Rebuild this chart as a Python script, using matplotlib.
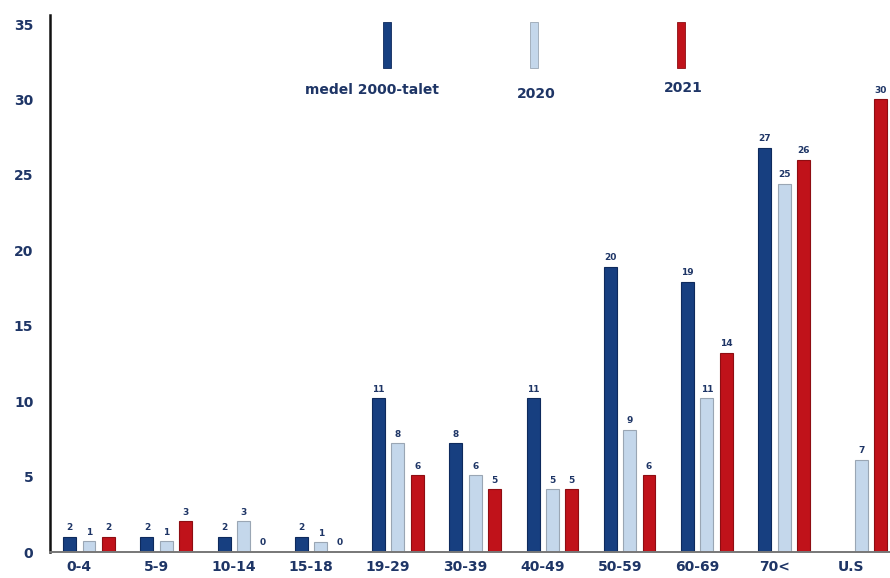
import numpy as np
import matplotlib
matplotlib.use("Agg")
import matplotlib.pyplot as plt
from matplotlib.patches import Rectangle

# age groups
groups = ["0-4", "5-9", "10-14", "15-18", "19-29", "30-39", "40-49",
          "50-59", "60-69", "70<", "U.S"]
series_names = ["medel 2000-talet", "2020", "2021"]

# bar heights as drawn
h_medel = [1.0, 1.0, 1.0, 1.0, 10.2, 7.2, 10.2, 18.9, 17.9, 26.8, 0]
h_2020 = [0.7, 0.7, 2.05, 0.65, 7.2, 5.1, 4.15, 8.1, 10.2, 24.4, 6.1]
h_2021 = [1.0, 2.05, 0, 0, 5.1, 4.15, 4.15, 5.1, 13.2, 26.0, 30.0]

# value labels printed on top of the bars
lab_medel = ["2", "2", "2", "2", "11", "8", "11", "20", "19", "27", ""]
lab_2020 = ["1", "1", "3", "1", "8", "6", "5", "9", "11", "25", "7"]
lab_2021 = ["2", "3", "0", "0", "6", "5", "5", "6", "14", "26", "30"]

colors = ["#173f80", "#c4d7eb", "#c0121a"]
edges = ["#0e2a5c", "#9aa6b4", "#8e0d12"]
txt_col = "#1e3566"

fig = plt.figure(figsize=(8.9, 5.78), dpi=100)
ax = fig.add_axes([50 / 890, 26 / 578, 1 - 50 / 890, 537 / 578])

x = np.arange(len(groups))
w = 0.168
off = 0.25
heights = [h_medel, h_2020, h_2021]
labels = [lab_medel, lab_2020, lab_2021]
for i in range(3):
    xs = x + (i - 1) * off
    ax.bar(xs, heights[i], width=w, color=colors[i], edgecolor=edges[i],
           linewidth=0.8, zorder=2)
    for xx, hh, ll in zip(xs, heights[i], labels[i]):
        if ll == "":
            continue
        ax.text(xx, hh + 0.3, ll, ha="center", va="bottom", fontsize=6.5,
                fontweight="bold", color=txt_col)

ax.set_xlim(-0.505, 10.37)
ax.set_ylim(0, 35.6)
ax.set_yticks(range(0, 36, 5))
ax.set_xticks(x - 0.13)
ax.set_xticklabels(groups)

ax.spines["top"].set_visible(False)
ax.spines["right"].set_visible(False)
ax.spines["left"].set_color("#111111")
ax.spines["left"].set_linewidth(1.8)
ax.spines["bottom"].set_color("#777777")
ax.spines["bottom"].set_linewidth(1.4)
ax.tick_params(axis="both", length=0, labelcolor=txt_col)
ax.tick_params(axis="y", pad=12, labelsize=10)
ax.tick_params(axis="x", pad=6, labelsize=10)
for t in ax.get_xticklabels() + ax.get_yticklabels():
    t.set_fontweight("bold")

# legend: tall thin swatches with text underneath
leg_x = [387, 534, 681]
leg_tx = [372, 536, 683]
leg_ty = [90, 94, 88]
for i in range(3):
    fig.patches.append(Rectangle((leg_x[i] / 890 - 4 / 890, 1 - 68 / 578),
                                 8 / 890, 46 / 578, transform=fig.transFigure,
                                 facecolor=colors[i], edgecolor=edges[i],
                                 linewidth=0.6))
    fig.text(leg_tx[i] / 890, 1 - leg_ty[i] / 578, series_names[i],
             ha="center", va="center", fontsize=10, fontweight="bold",
             color=txt_col)

fig.savefig("out.png", dpi=100)
